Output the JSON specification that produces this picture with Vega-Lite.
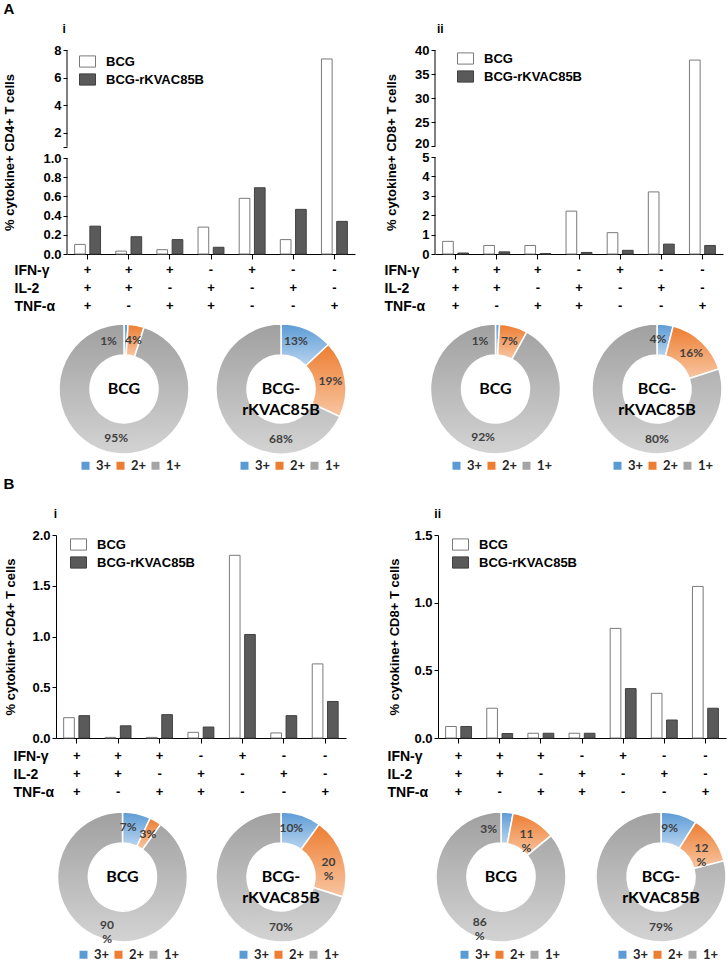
{
  "$schema": "https://vega.github.io/schema/vega-lite/v6.json",
  "background": "white",
  "padding": {"left": 2, "top": 2, "right": 2, "bottom": 0},
  "config": {
    "view": {"stroke": null},
    "font": "Liberation Sans",
    "axis": {"labelFont": "Liberation Sans", "labelFontSize": 13, "labelFontWeight": "bold", "labelColor": "#000", "titleFont": "Liberation Sans", "titleFontSize": 13, "titleFontWeight": "bold", "titleColor": "#000", "tickColor": "#000", "domainColor": "#000", "grid": false, "labelOverlap": false, "labelFlush": false, "tickSize": 4, "labelPadding": 2},
    "title": {"font": "Liberation Sans", "fontWeight": "bold", "color": "#000", "anchor": "start", "frame": "group"}
  },
  "datasets": {
    "bars": [
      {"p":"Ai","cat":1,"g":"BCG","v":0.10},{"p":"Ai","cat":2,"g":"BCG","v":0.03},{"p":"Ai","cat":3,"g":"BCG","v":0.045},{"p":"Ai","cat":4,"g":"BCG","v":0.28},{"p":"Ai","cat":5,"g":"BCG","v":0.58},{"p":"Ai","cat":6,"g":"BCG","v":0.15},{"p":"Ai","cat":7,"g":"BCG","v":7.35},
      {"p":"Ai","cat":1,"g":"BCG-rKVAC85B","v":0.29},{"p":"Ai","cat":2,"g":"BCG-rKVAC85B","v":0.18},{"p":"Ai","cat":3,"g":"BCG-rKVAC85B","v":0.15},{"p":"Ai","cat":4,"g":"BCG-rKVAC85B","v":0.07},{"p":"Ai","cat":5,"g":"BCG-rKVAC85B","v":0.69},{"p":"Ai","cat":6,"g":"BCG-rKVAC85B","v":0.465},{"p":"Ai","cat":7,"g":"BCG-rKVAC85B","v":0.34},
      {"p":"Aii","cat":1,"g":"BCG","v":0.65},{"p":"Aii","cat":2,"g":"BCG","v":0.44},{"p":"Aii","cat":3,"g":"BCG","v":0.44},{"p":"Aii","cat":4,"g":"BCG","v":2.21},{"p":"Aii","cat":5,"g":"BCG","v":1.1},{"p":"Aii","cat":6,"g":"BCG","v":3.2},{"p":"Aii","cat":7,"g":"BCG","v":37.9},
      {"p":"Aii","cat":1,"g":"BCG-rKVAC85B","v":0.05},{"p":"Aii","cat":2,"g":"BCG-rKVAC85B","v":0.11},{"p":"Aii","cat":3,"g":"BCG-rKVAC85B","v":0.02},{"p":"Aii","cat":4,"g":"BCG-rKVAC85B","v":0.08},{"p":"Aii","cat":5,"g":"BCG-rKVAC85B","v":0.19},{"p":"Aii","cat":6,"g":"BCG-rKVAC85B","v":0.51},{"p":"Aii","cat":7,"g":"BCG-rKVAC85B","v":0.44},
      {"p":"Bi","cat":1,"g":"BCG","v":0.20},{"p":"Bi","cat":2,"g":"BCG","v":0.006},{"p":"Bi","cat":3,"g":"BCG","v":0.006},{"p":"Bi","cat":4,"g":"BCG","v":0.056},{"p":"Bi","cat":5,"g":"BCG","v":1.80},{"p":"Bi","cat":6,"g":"BCG","v":0.05},{"p":"Bi","cat":7,"g":"BCG","v":0.73},
      {"p":"Bi","cat":1,"g":"BCG-rKVAC85B","v":0.22},{"p":"Bi","cat":2,"g":"BCG-rKVAC85B","v":0.12},{"p":"Bi","cat":3,"g":"BCG-rKVAC85B","v":0.23},{"p":"Bi","cat":4,"g":"BCG-rKVAC85B","v":0.108},{"p":"Bi","cat":5,"g":"BCG-rKVAC85B","v":1.02},{"p":"Bi","cat":6,"g":"BCG-rKVAC85B","v":0.22},{"p":"Bi","cat":7,"g":"BCG-rKVAC85B","v":0.36},
      {"p":"Bii","cat":1,"g":"BCG","v":0.085},{"p":"Bii","cat":2,"g":"BCG","v":0.22},{"p":"Bii","cat":3,"g":"BCG","v":0.035},{"p":"Bii","cat":4,"g":"BCG","v":0.035},{"p":"Bii","cat":5,"g":"BCG","v":0.81},{"p":"Bii","cat":6,"g":"BCG","v":0.33},{"p":"Bii","cat":7,"g":"BCG","v":1.12},
      {"p":"Bii","cat":1,"g":"BCG-rKVAC85B","v":0.085},{"p":"Bii","cat":2,"g":"BCG-rKVAC85B","v":0.033},{"p":"Bii","cat":3,"g":"BCG-rKVAC85B","v":0.035},{"p":"Bii","cat":4,"g":"BCG-rKVAC85B","v":0.035},{"p":"Bii","cat":5,"g":"BCG-rKVAC85B","v":0.365},{"p":"Bii","cat":6,"g":"BCG-rKVAC85B","v":0.133},{"p":"Bii","cat":7,"g":"BCG-rKVAC85B","v":0.22}
    ],
    "combos": [
      {"cat":1,"IFN":"+","IL2":"+","TNF":"+"},
      {"cat":2,"IFN":"+","IL2":"+","TNF":"-"},
      {"cat":3,"IFN":"+","IL2":"-","TNF":"+"},
      {"cat":4,"IFN":"-","IL2":"+","TNF":"+"},
      {"cat":5,"IFN":"+","IL2":"-","TNF":"-"},
      {"cat":6,"IFN":"-","IL2":"+","TNF":"-"},
      {"cat":7,"IFN":"-","IL2":"-","TNF":"+"}
    ],
    "donuts": [
      {"p":"Ai","g":"BCG","c":"3+","pct":1,"lab":"1%"},{"p":"Ai","g":"BCG","c":"2+","pct":4,"lab":"4%"},{"p":"Ai","g":"BCG","c":"1+","pct":95,"lab":"95%"},
      {"p":"Ai","g":"BCG-rKVAC85B","c":"3+","pct":13,"lab":"13%"},{"p":"Ai","g":"BCG-rKVAC85B","c":"2+","pct":19,"lab":"19%"},{"p":"Ai","g":"BCG-rKVAC85B","c":"1+","pct":68,"lab":"68%"},
      {"p":"Aii","g":"BCG","c":"3+","pct":1,"lab":"1%"},{"p":"Aii","g":"BCG","c":"2+","pct":7,"lab":"7%"},{"p":"Aii","g":"BCG","c":"1+","pct":92,"lab":"92%"},
      {"p":"Aii","g":"BCG-rKVAC85B","c":"3+","pct":4,"lab":"4%"},{"p":"Aii","g":"BCG-rKVAC85B","c":"2+","pct":16,"lab":"16%"},{"p":"Aii","g":"BCG-rKVAC85B","c":"1+","pct":80,"lab":"80%"},
      {"p":"Bi","g":"BCG","c":"3+","pct":7,"lab":"7%"},{"p":"Bi","g":"BCG","c":"2+","pct":3,"lab":"3%"},{"p":"Bi","g":"BCG","c":"1+","pct":90,"lab":"90\n%"},
      {"p":"Bi","g":"BCG-rKVAC85B","c":"3+","pct":10,"lab":"10%"},{"p":"Bi","g":"BCG-rKVAC85B","c":"2+","pct":20,"lab":"20\n%"},{"p":"Bi","g":"BCG-rKVAC85B","c":"1+","pct":70,"lab":"70%"},
      {"p":"Bii","g":"BCG","c":"3+","pct":3,"lab":"3%"},{"p":"Bii","g":"BCG","c":"2+","pct":11,"lab":"11\n%"},{"p":"Bii","g":"BCG","c":"1+","pct":86,"lab":"86\n%"},
      {"p":"Bii","g":"BCG-rKVAC85B","c":"3+","pct":9,"lab":"9%"},{"p":"Bii","g":"BCG-rKVAC85B","c":"2+","pct":12,"lab":"12\n%"},{"p":"Bii","g":"BCG-rKVAC85B","c":"1+","pct":79,"lab":"79%"}
    ]
  },
  "resolve": {"scale": {"color": "independent", "fill": "independent", "stroke": "independent", "theta": "independent"}, "legend": {"color": "independent", "fill": "independent", "stroke": "independent"}},
  "spacing": 4,
  "vconcat": [
    {
      "title": {"text": "A", "fontSize": 15, "offset": 6, "dx": 1.6},
      "spacing": 0,
      "resolve": {"scale": {"color": "independent", "fill": "independent", "stroke": "independent", "theta": "independent"}, "legend": {"color": "independent", "fill": "independent", "stroke": "independent"}},
      "hconcat": [
        {"width": 1, "height": 1, "data": {"values": [{"s": 0}]}, "mark": {"type": "rect", "opacity": 0}, "encoding": {}},
        {
          "spacing": 29,
          "resolve": {"scale": {"color": "independent", "fill": "independent", "stroke": "independent", "theta": "independent"}, "legend": {"color": "independent", "fill": "independent", "stroke": "independent"}},
          "hconcat": [
            {
              "spacing": 0,
              "resolve": {"scale": {"color": "independent", "fill": "independent", "stroke": "independent", "theta": "independent"}, "legend": {"color": "independent", "fill": "independent", "stroke": "independent"}},
              "vconcat": [
                {
                  "width": 288, "height": 204,
                  "title": {"text": "i", "fontSize": 12, "dx": -4.5, "offset": 8},
                  "data": {"name": "bars"},
                  "layer": [
                    {
                      "transform": [{"filter": "datum.p == 'Ai'"}],
                      "mark": {"type": "bar", "strokeWidth": 1},
                      "encoding": {
                        "x": {"field": "cat", "type": "ordinal", "scale": {"paddingInner": 0.37, "paddingOuter": 0.185}, "axis": {"labels": false, "title": null, "tickSize": 5}},
                        "xOffset": {"field": "g", "type": "nominal", "scale": {"domain": ["BCG", "BCG-rKVAC85B"], "paddingInner": 0.3}},
                        "y": {"field": "v", "type": "quantitative", "title": "% cytokine+ CD4+ T cells", "scale": {"domain": [0, 1, 1.0001, 8], "range": [204, 108, 96.7, 0], "nice": false}, "axis": {"values": [0, 0.2, 0.4, 0.6, 0.8, 1, 1.0001, 2, 4, 6, 8], "labelExpr": "datum.value > 1.5 ? format(datum.value, 'd') : (datum.value > 1.00005 ? '' : format(datum.value, '.1f'))", "labelOverlap": false, "domain": false, "titleX": -57.5, "titleBaseline": "middle"}},
                        "fill": {"field": "g", "type": "nominal", "scale": {"domain": ["BCG", "BCG-rKVAC85B"], "range": ["#ffffff", "#5a5a5a"]}, "legend": {"orient": "none", "legendX": 12, "legendY": 3, "title": null, "padding": 0, "symbolType": "M-1,-0.7H1V0.7H-1Z", "symbolSize": 256, "symbolStrokeColor": "#555555", "symbolStrokeWidth": 1, "labelFont": "Liberation Sans", "labelFontSize": 13, "labelFontWeight": "bold", "labelColor": "#000", "labelOffset": 10, "rowPadding": 1}},
                        "stroke": {"field": "g", "type": "nominal", "scale": {"domain": ["BCG", "BCG-rKVAC85B"], "range": ["#7a7a7a", "#404040"]}, "legend": null}
                      }
                    },
                    {
                      "data": {"values": [{"lo": 0, "hi": 1}, {"lo": 1.0001, "hi": 8}]},
                      "mark": {"type": "rule", "color": "#000", "strokeWidth": 1},
                      "encoding": {
                        "x": {"datum": 0, "type": "quantitative", "scale": {"domain": [0, 1]}, "axis": null},
                        "y": {"field": "lo", "type": "quantitative", "scale": {"domain": [0, 1, 1.0001, 8], "range": [204, 108, 96.7, 0], "nice": false}, "axis": null},
                        "y2": {"field": "hi"}
                      }
                    }
                  ],
                  "resolve": {"scale": {"x": "independent", "y": "independent"}}
                },
                {
                  "width": 288, "height": 54,
                  "data": {"name": "combos"},
                  "transform": [{"fold": ["IFN", "IL2", "TNF"], "as": ["cyt", "sign"]}],
                  "mark": {"type": "text", "font": "Liberation Sans", "fontSize": 13, "fontWeight": "bold", "color": "#000"},
                  "encoding": {
                    "x": {"field": "cat", "type": "ordinal", "scale": {"type": "band", "paddingInner": 0.37, "paddingOuter": 0.185}, "axis": null},
                    "y": {"field": "cyt", "type": "nominal", "sort": ["IFN", "IL2", "TNF"], "axis": {"title": null, "domain": false, "ticks": false, "tickSize": 0, "labelAlign": "left", "labelPadding": 53, "labelFontSize": 14, "labelExpr": "datum.value == 'IFN' ? 'IFN-γ' : (datum.value == 'IL2' ? 'IL-2' : 'TNF-α')"}},
                    "text": {"field": "sign"}
                  }
                },
                {
                  "spacing": 35, "bounds": "flush",
                  "resolve": {"scale": {"color": "independent", "fill": "independent", "stroke": "independent", "theta": "independent"}, "legend": {"color": "independent", "fill": "independent", "stroke": "independent"}},
                  "hconcat": [
                    {
                      "width": 114, "height": 148,
                      "data": {"name": "donuts"},
                      "transform": [{"filter": "datum.p == 'Ai' && datum.g == 'BCG'"}, {"stack": "pct", "groupby": [], "sort": [{"field": "c", "order": "descending"}], "as": ["t0", "t1"]}, {"calculate": "datum.c == '3+' ? (datum.pct < 4 ? (datum.t0 + datum.t1) / 2 - 5.5 : (datum.t0 + datum.t1) / 2 - 1.7) : ((datum.c == '1+' && datum.g != 'BCG') ? 50 : (datum.t0 + datum.t1) / 2)", "as": "lt"}],
                      "layer": [
                        {"mark": {"type": "arc", "innerRadius": 34, "outerRadius": 65}, "encoding": {"theta": {"field": "t0", "type": "quantitative", "stack": null, "scale": {"type": "linear", "domain": [0, 100], "range": [0, 6.2832], "nice": false, "zero": false}}, "theta2": {"field": "t1"}, "color": {"field": "c", "type": "nominal", "scale": {"domain": ["3+", "2+", "1+"], "range": ["#5b9bd5", "#ed7d31", "#a5a5a5"]}, "legend": {"orient": "none", "legendX": 12, "legendY": 144, "direction": "horizontal", "title": null, "padding": 0, "symbolType": "square", "symbolSize": 64, "symbolStrokeWidth": 0, "labelFont": "Lato", "labelFontSize": 13, "labelFontWeight": "bold", "labelColor": "#262626", "columnPadding": 2, "labelOffset": 4}}}},
                        {"transform": [{"filter": "datum.c == '3+'"}], "mark": {"type": "arc", "innerRadius": 34, "outerRadius": 65, "stroke": "#ffffff", "strokeWidth": 1.5, "fill": {"gradient": "linear", "x1": 0, "y1": 0, "x2": 0, "y2": 1, "stops": [{"offset": 0, "color": "#5b9bd5"}, {"offset": 1, "color": "#b9d4ef"}]}}, "encoding": {"theta": {"field": "t0", "type": "quantitative", "stack": null, "scale": {"type": "linear", "domain": [0, 100], "range": [0, 6.2832], "nice": false, "zero": false}}, "theta2": {"field": "t1"}}},
                        {"transform": [{"filter": "datum.c == '2+'"}], "mark": {"type": "arc", "innerRadius": 34, "outerRadius": 65, "stroke": "#ffffff", "strokeWidth": 1.5, "fill": {"gradient": "linear", "x1": 0, "y1": 0, "x2": 0, "y2": 1, "stops": [{"offset": 0, "color": "#ed7d31"}, {"offset": 1, "color": "#f8c6a2"}]}}, "encoding": {"theta": {"field": "t0", "type": "quantitative", "stack": null, "scale": {"type": "linear", "domain": [0, 100], "range": [0, 6.2832], "nice": false, "zero": false}}, "theta2": {"field": "t1"}}},
                        {"transform": [{"filter": "datum.c == '1+'"}], "mark": {"type": "arc", "innerRadius": 34, "outerRadius": 65, "stroke": "#ffffff", "strokeWidth": 1.5, "fill": {"gradient": "linear", "x1": 0, "y1": 0, "x2": 0, "y2": 1, "stops": [{"offset": 0, "color": "#a0a0a0"}, {"offset": 1, "color": "#d3d3d3"}]}}, "encoding": {"theta": {"field": "t0", "type": "quantitative", "stack": null, "scale": {"type": "linear", "domain": [0, 100], "range": [0, 6.2832], "nice": false, "zero": false}}, "theta2": {"field": "t1"}}},
                        {"mark": {"type": "text", "radius": 50, "font": "Lato", "fontWeight": "bold", "fontSize": 12, "color": "#404040", "lineBreak": "\n"}, "encoding": {"theta": {"field": "lt", "type": "quantitative", "stack": null, "scale": {"type": "linear", "domain": [0, 100], "range": [0, 6.2832], "nice": false, "zero": false}}, "text": {"field": "lab"}}},
                        {"transform": [{"filter": "datum.c == '1+'"}, {"calculate": "replace(datum.g, '-', '-\\n')", "as": "ctr"}], "mark": {"type": "text", "font": "Lato", "fontWeight": "bold", "fontSize": 16, "color": "#000", "lineBreak": "\n", "lineHeight": 21}, "encoding": {"text": {"field": "ctr"}}}
                      ]
                    },
                    {
                      "width": 130, "height": 148,
                      "data": {"name": "donuts"},
                      "transform": [{"filter": "datum.p == 'Ai' && datum.g == 'BCG-rKVAC85B'"}, {"stack": "pct", "groupby": [], "sort": [{"field": "c", "order": "descending"}], "as": ["t0", "t1"]}, {"calculate": "datum.c == '3+' ? (datum.pct < 4 ? (datum.t0 + datum.t1) / 2 - 5.5 : (datum.t0 + datum.t1) / 2 - 1.7) : ((datum.c == '1+' && datum.g != 'BCG') ? 50 : (datum.t0 + datum.t1) / 2)", "as": "lt"}],
                      "layer": [
                        {"mark": {"type": "arc", "innerRadius": 34, "outerRadius": 65}, "encoding": {"theta": {"field": "t0", "type": "quantitative", "stack": null, "scale": {"type": "linear", "domain": [0, 100], "range": [0, 6.2832], "nice": false, "zero": false}}, "theta2": {"field": "t1"}, "color": {"field": "c", "type": "nominal", "scale": {"domain": ["3+", "2+", "1+"], "range": ["#5b9bd5", "#ed7d31", "#a5a5a5"]}, "legend": {"orient": "none", "legendX": 22, "legendY": 144, "direction": "horizontal", "title": null, "padding": 0, "symbolType": "square", "symbolSize": 64, "symbolStrokeWidth": 0, "labelFont": "Lato", "labelFontSize": 13, "labelFontWeight": "bold", "labelColor": "#262626", "columnPadding": 2, "labelOffset": 4}}}},
                        {"transform": [{"filter": "datum.c == '3+'"}], "mark": {"type": "arc", "innerRadius": 34, "outerRadius": 65, "stroke": "#ffffff", "strokeWidth": 1.5, "fill": {"gradient": "linear", "x1": 0, "y1": 0, "x2": 0, "y2": 1, "stops": [{"offset": 0, "color": "#5b9bd5"}, {"offset": 1, "color": "#b9d4ef"}]}}, "encoding": {"theta": {"field": "t0", "type": "quantitative", "stack": null, "scale": {"type": "linear", "domain": [0, 100], "range": [0, 6.2832], "nice": false, "zero": false}}, "theta2": {"field": "t1"}}},
                        {"transform": [{"filter": "datum.c == '2+'"}], "mark": {"type": "arc", "innerRadius": 34, "outerRadius": 65, "stroke": "#ffffff", "strokeWidth": 1.5, "fill": {"gradient": "linear", "x1": 0, "y1": 0, "x2": 0, "y2": 1, "stops": [{"offset": 0, "color": "#ed7d31"}, {"offset": 1, "color": "#f8c6a2"}]}}, "encoding": {"theta": {"field": "t0", "type": "quantitative", "stack": null, "scale": {"type": "linear", "domain": [0, 100], "range": [0, 6.2832], "nice": false, "zero": false}}, "theta2": {"field": "t1"}}},
                        {"transform": [{"filter": "datum.c == '1+'"}], "mark": {"type": "arc", "innerRadius": 34, "outerRadius": 65, "stroke": "#ffffff", "strokeWidth": 1.5, "fill": {"gradient": "linear", "x1": 0, "y1": 0, "x2": 0, "y2": 1, "stops": [{"offset": 0, "color": "#a0a0a0"}, {"offset": 1, "color": "#d3d3d3"}]}}, "encoding": {"theta": {"field": "t0", "type": "quantitative", "stack": null, "scale": {"type": "linear", "domain": [0, 100], "range": [0, 6.2832], "nice": false, "zero": false}}, "theta2": {"field": "t1"}}},
                        {"mark": {"type": "text", "radius": 50, "font": "Lato", "fontWeight": "bold", "fontSize": 12, "color": "#404040", "lineBreak": "\n"}, "encoding": {"theta": {"field": "lt", "type": "quantitative", "stack": null, "scale": {"type": "linear", "domain": [0, 100], "range": [0, 6.2832], "nice": false, "zero": false}}, "text": {"field": "lab"}}},
                        {"transform": [{"filter": "datum.c == '1+'"}, {"calculate": "replace(datum.g, '-', '-\\n')", "as": "ctr"}], "mark": {"type": "text", "font": "Lato", "fontWeight": "bold", "fontSize": 16, "color": "#000", "lineBreak": "\n", "lineHeight": 21}, "encoding": {"text": {"field": "ctr"}}}
                      ]
                    }
                  ]
                }
              ]
            },
            {
              "spacing": 0,
              "resolve": {"scale": {"color": "independent", "fill": "independent", "stroke": "independent", "theta": "independent"}, "legend": {"color": "independent", "fill": "independent", "stroke": "independent"}},
              "vconcat": [
                {
                  "width": 288, "height": 204,
                  "title": {"text": "ii", "fontSize": 12, "dx": 2, "offset": 8},
                  "data": {"name": "bars"},
                  "layer": [
                    {
                      "transform": [{"filter": "datum.p == 'Aii'"}],
                      "mark": {"type": "bar", "strokeWidth": 1},
                      "encoding": {
                        "x": {"field": "cat", "type": "ordinal", "scale": {"paddingInner": 0.37, "paddingOuter": 0.185}, "axis": {"labels": false, "title": null, "tickSize": 5}},
                        "xOffset": {"field": "g", "type": "nominal", "scale": {"domain": ["BCG", "BCG-rKVAC85B"], "paddingInner": 0.3}},
                        "y": {"field": "v", "type": "quantitative", "title": "% cytokine+ CD8+ T cells", "scale": {"domain": [0, 5, 20, 40], "range": [204, 107, 96, 0], "nice": false}, "axis": {"values": [0, 1, 2, 3, 4, 5, 20, 25, 30, 35, 40], "format": "d", "labelOverlap": false, "labelOffset": {"condition": {"test": "datum.value == 20", "value": -2.5}, "value": 0}, "domain": false, "titleX": -44, "titleBaseline": "middle"}},
                        "fill": {"field": "g", "type": "nominal", "scale": {"domain": ["BCG", "BCG-rKVAC85B"], "range": ["#ffffff", "#5a5a5a"]}, "legend": {"orient": "none", "legendX": 22, "legendY": 0, "title": null, "padding": 0, "symbolType": "M-1,-0.7H1V0.7H-1Z", "symbolSize": 256, "symbolStrokeColor": "#555555", "symbolStrokeWidth": 1, "labelFont": "Liberation Sans", "labelFontSize": 13, "labelFontWeight": "bold", "labelColor": "#000", "labelOffset": 10, "rowPadding": 1}},
                        "stroke": {"field": "g", "type": "nominal", "scale": {"domain": ["BCG", "BCG-rKVAC85B"], "range": ["#7a7a7a", "#404040"]}, "legend": null}
                      }
                    },
                    {
                      "data": {"values": [{"lo": 0, "hi": 5}, {"lo": 20, "hi": 40}]},
                      "mark": {"type": "rule", "color": "#000", "strokeWidth": 1},
                      "encoding": {
                        "x": {"datum": 0, "type": "quantitative", "scale": {"domain": [0, 1]}, "axis": null},
                        "y": {"field": "lo", "type": "quantitative", "scale": {"domain": [0, 5, 20, 40], "range": [204, 107, 96, 0], "nice": false}, "axis": null},
                        "y2": {"field": "hi"}
                      }
                    }
                  ],
                  "resolve": {"scale": {"x": "independent", "y": "independent"}}
                },
                {
                  "width": 288, "height": 54,
                  "data": {"name": "combos"},
                  "transform": [{"fold": ["IFN", "IL2", "TNF"], "as": ["cyt", "sign"]}],
                  "mark": {"type": "text", "font": "Liberation Sans", "fontSize": 13, "fontWeight": "bold", "color": "#000"},
                  "encoding": {
                    "x": {"field": "cat", "type": "ordinal", "scale": {"type": "band", "paddingInner": 0.37, "paddingOuter": 0.185}, "axis": null},
                    "y": {"field": "cyt", "type": "nominal", "sort": ["IFN", "IL2", "TNF"], "axis": {"title": null, "domain": false, "ticks": false, "tickSize": 0, "labelAlign": "left", "labelPadding": 51, "labelFontSize": 14, "labelExpr": "datum.value == 'IFN' ? 'IFN-γ' : (datum.value == 'IL2' ? 'IL-2' : 'TNF-α')"}},
                    "text": {"field": "sign"}
                  }
                },
                {
                  "spacing": 36, "bounds": "flush",
                  "resolve": {"scale": {"color": "independent", "fill": "independent", "stroke": "independent", "theta": "independent"}, "legend": {"color": "independent", "fill": "independent", "stroke": "independent"}},
                  "hconcat": [
                    {
                      "width": 121, "height": 148,
                      "data": {"name": "donuts"},
                      "transform": [{"filter": "datum.p == 'Aii' && datum.g == 'BCG'"}, {"stack": "pct", "groupby": [], "sort": [{"field": "c", "order": "descending"}], "as": ["t0", "t1"]}, {"calculate": "datum.c == '3+' ? (datum.pct < 4 ? (datum.t0 + datum.t1) / 2 - 5.5 : (datum.t0 + datum.t1) / 2 - 1.7) : ((datum.c == '1+' && datum.g != 'BCG') ? 50 : (datum.t0 + datum.t1) / 2)", "as": "lt"}],
                      "layer": [
                        {"mark": {"type": "arc", "innerRadius": 34, "outerRadius": 65}, "encoding": {"theta": {"field": "t0", "type": "quantitative", "stack": null, "scale": {"type": "linear", "domain": [0, 100], "range": [0, 6.2832], "nice": false, "zero": false}}, "theta2": {"field": "t1"}, "color": {"field": "c", "type": "nominal", "scale": {"domain": ["3+", "2+", "1+"], "range": ["#5b9bd5", "#ed7d31", "#a5a5a5"]}, "legend": {"orient": "none", "legendX": 15, "legendY": 144, "direction": "horizontal", "title": null, "padding": 0, "symbolType": "square", "symbolSize": 64, "symbolStrokeWidth": 0, "labelFont": "Lato", "labelFontSize": 13, "labelFontWeight": "bold", "labelColor": "#262626", "columnPadding": 2, "labelOffset": 4}}}},
                        {"transform": [{"filter": "datum.c == '3+'"}], "mark": {"type": "arc", "innerRadius": 34, "outerRadius": 65, "stroke": "#ffffff", "strokeWidth": 1.5, "fill": {"gradient": "linear", "x1": 0, "y1": 0, "x2": 0, "y2": 1, "stops": [{"offset": 0, "color": "#5b9bd5"}, {"offset": 1, "color": "#b9d4ef"}]}}, "encoding": {"theta": {"field": "t0", "type": "quantitative", "stack": null, "scale": {"type": "linear", "domain": [0, 100], "range": [0, 6.2832], "nice": false, "zero": false}}, "theta2": {"field": "t1"}}},
                        {"transform": [{"filter": "datum.c == '2+'"}], "mark": {"type": "arc", "innerRadius": 34, "outerRadius": 65, "stroke": "#ffffff", "strokeWidth": 1.5, "fill": {"gradient": "linear", "x1": 0, "y1": 0, "x2": 0, "y2": 1, "stops": [{"offset": 0, "color": "#ed7d31"}, {"offset": 1, "color": "#f8c6a2"}]}}, "encoding": {"theta": {"field": "t0", "type": "quantitative", "stack": null, "scale": {"type": "linear", "domain": [0, 100], "range": [0, 6.2832], "nice": false, "zero": false}}, "theta2": {"field": "t1"}}},
                        {"transform": [{"filter": "datum.c == '1+'"}], "mark": {"type": "arc", "innerRadius": 34, "outerRadius": 65, "stroke": "#ffffff", "strokeWidth": 1.5, "fill": {"gradient": "linear", "x1": 0, "y1": 0, "x2": 0, "y2": 1, "stops": [{"offset": 0, "color": "#a0a0a0"}, {"offset": 1, "color": "#d3d3d3"}]}}, "encoding": {"theta": {"field": "t0", "type": "quantitative", "stack": null, "scale": {"type": "linear", "domain": [0, 100], "range": [0, 6.2832], "nice": false, "zero": false}}, "theta2": {"field": "t1"}}},
                        {"mark": {"type": "text", "radius": 50, "font": "Lato", "fontWeight": "bold", "fontSize": 12, "color": "#404040", "lineBreak": "\n"}, "encoding": {"theta": {"field": "lt", "type": "quantitative", "stack": null, "scale": {"type": "linear", "domain": [0, 100], "range": [0, 6.2832], "nice": false, "zero": false}}, "text": {"field": "lab"}}},
                        {"transform": [{"filter": "datum.c == '1+'"}, {"calculate": "replace(datum.g, '-', '-\\n')", "as": "ctr"}], "mark": {"type": "text", "font": "Lato", "fontWeight": "bold", "fontSize": 16, "color": "#000", "lineBreak": "\n", "lineHeight": 21}, "encoding": {"text": {"field": "ctr"}}}
                      ]
                    },
                    {
                      "width": 130, "height": 148,
                      "data": {"name": "donuts"},
                      "transform": [{"filter": "datum.p == 'Aii' && datum.g == 'BCG-rKVAC85B'"}, {"stack": "pct", "groupby": [], "sort": [{"field": "c", "order": "descending"}], "as": ["t0", "t1"]}, {"calculate": "datum.c == '3+' ? (datum.pct < 4 ? (datum.t0 + datum.t1) / 2 - 5.5 : (datum.t0 + datum.t1) / 2 - 1.7) : ((datum.c == '1+' && datum.g != 'BCG') ? 50 : (datum.t0 + datum.t1) / 2)", "as": "lt"}],
                      "layer": [
                        {"mark": {"type": "arc", "innerRadius": 34, "outerRadius": 65}, "encoding": {"theta": {"field": "t0", "type": "quantitative", "stack": null, "scale": {"type": "linear", "domain": [0, 100], "range": [0, 6.2832], "nice": false, "zero": false}}, "theta2": {"field": "t1"}, "color": {"field": "c", "type": "nominal", "scale": {"domain": ["3+", "2+", "1+"], "range": ["#5b9bd5", "#ed7d31", "#a5a5a5"]}, "legend": {"orient": "none", "legendX": 19, "legendY": 144, "direction": "horizontal", "title": null, "padding": 0, "symbolType": "square", "symbolSize": 64, "symbolStrokeWidth": 0, "labelFont": "Lato", "labelFontSize": 13, "labelFontWeight": "bold", "labelColor": "#262626", "columnPadding": 2, "labelOffset": 4}}}},
                        {"transform": [{"filter": "datum.c == '3+'"}], "mark": {"type": "arc", "innerRadius": 34, "outerRadius": 65, "stroke": "#ffffff", "strokeWidth": 1.5, "fill": {"gradient": "linear", "x1": 0, "y1": 0, "x2": 0, "y2": 1, "stops": [{"offset": 0, "color": "#5b9bd5"}, {"offset": 1, "color": "#b9d4ef"}]}}, "encoding": {"theta": {"field": "t0", "type": "quantitative", "stack": null, "scale": {"type": "linear", "domain": [0, 100], "range": [0, 6.2832], "nice": false, "zero": false}}, "theta2": {"field": "t1"}}},
                        {"transform": [{"filter": "datum.c == '2+'"}], "mark": {"type": "arc", "innerRadius": 34, "outerRadius": 65, "stroke": "#ffffff", "strokeWidth": 1.5, "fill": {"gradient": "linear", "x1": 0, "y1": 0, "x2": 0, "y2": 1, "stops": [{"offset": 0, "color": "#ed7d31"}, {"offset": 1, "color": "#f8c6a2"}]}}, "encoding": {"theta": {"field": "t0", "type": "quantitative", "stack": null, "scale": {"type": "linear", "domain": [0, 100], "range": [0, 6.2832], "nice": false, "zero": false}}, "theta2": {"field": "t1"}}},
                        {"transform": [{"filter": "datum.c == '1+'"}], "mark": {"type": "arc", "innerRadius": 34, "outerRadius": 65, "stroke": "#ffffff", "strokeWidth": 1.5, "fill": {"gradient": "linear", "x1": 0, "y1": 0, "x2": 0, "y2": 1, "stops": [{"offset": 0, "color": "#a0a0a0"}, {"offset": 1, "color": "#d3d3d3"}]}}, "encoding": {"theta": {"field": "t0", "type": "quantitative", "stack": null, "scale": {"type": "linear", "domain": [0, 100], "range": [0, 6.2832], "nice": false, "zero": false}}, "theta2": {"field": "t1"}}},
                        {"mark": {"type": "text", "radius": 50, "font": "Lato", "fontWeight": "bold", "fontSize": 12, "color": "#404040", "lineBreak": "\n"}, "encoding": {"theta": {"field": "lt", "type": "quantitative", "stack": null, "scale": {"type": "linear", "domain": [0, 100], "range": [0, 6.2832], "nice": false, "zero": false}}, "text": {"field": "lab"}}},
                        {"transform": [{"filter": "datum.c == '1+'"}, {"calculate": "replace(datum.g, '-', '-\\n')", "as": "ctr"}], "mark": {"type": "text", "font": "Lato", "fontWeight": "bold", "fontSize": 16, "color": "#000", "lineBreak": "\n", "lineHeight": 21}, "encoding": {"text": {"field": "ctr"}}}
                      ]
                    }
                  ]
                }
              ]
            }
          ]
        }
      ]
    },
    {
      "title": {"text": "B", "fontSize": 15, "offset": 16, "dx": 1.6},
      "spacing": 0,
      "resolve": {"scale": {"color": "independent", "fill": "independent", "stroke": "independent", "theta": "independent"}, "legend": {"color": "independent", "fill": "independent", "stroke": "independent"}},
      "hconcat": [
        {"width": 1, "height": 1, "data": {"values": [{"s": 0}]}, "mark": {"type": "rect", "opacity": 0}, "encoding": {}},
        {
          "spacing": 38,
          "resolve": {"scale": {"color": "independent", "fill": "independent", "stroke": "independent", "theta": "independent"}, "legend": {"color": "independent", "fill": "independent", "stroke": "independent"}},
          "hconcat": [
            {
              "spacing": 2,
              "resolve": {"scale": {"color": "independent", "fill": "independent", "stroke": "independent", "theta": "independent"}, "legend": {"color": "independent", "fill": "independent", "stroke": "independent"}},
              "vconcat": [
                {
                  "width": 290, "height": 203,
                  "title": {"text": "i", "fontSize": 12, "dx": -2.3, "offset": 8},
                  "data": {"name": "bars"},
                  "transform": [{"filter": "datum.p == 'Bi'"}],
                  "mark": {"type": "bar", "strokeWidth": 1},
                  "encoding": {
                    "x": {"field": "cat", "type": "ordinal", "scale": {"paddingInner": 0.37, "paddingOuter": 0.185}, "axis": {"labels": false, "title": null, "tickSize": 5}},
                    "xOffset": {"field": "g", "type": "nominal", "scale": {"domain": ["BCG", "BCG-rKVAC85B"], "paddingInner": 0.3}},
                    "y": {"field": "v", "type": "quantitative", "title": "% cytokine+ CD4+ T cells", "scale": {"domain": [0, 2], "nice": false}, "axis": {"values": [0, 0.5, 1, 1.5, 2], "format": ".1f", "labelOverlap": false, "titleX": -46, "titleBaseline": "middle"}},
                    "fill": {"field": "g", "type": "nominal", "scale": {"domain": ["BCG", "BCG-rKVAC85B"], "range": ["#ffffff", "#5a5a5a"]}, "legend": {"orient": "none", "legendX": 14, "legendY": 1, "title": null, "padding": 0, "symbolType": "M-1,-0.7H1V0.7H-1Z", "symbolSize": 256, "symbolStrokeColor": "#555555", "symbolStrokeWidth": 1, "labelFont": "Liberation Sans", "labelFontSize": 13, "labelFontWeight": "bold", "labelColor": "#000", "labelOffset": 10, "rowPadding": 1}},
                    "stroke": {"field": "g", "type": "nominal", "scale": {"domain": ["BCG", "BCG-rKVAC85B"], "range": ["#7a7a7a", "#404040"]}, "legend": null}
                  }
                },
                {
                  "width": 290, "height": 54,
                  "data": {"name": "combos"},
                  "transform": [{"fold": ["IFN", "IL2", "TNF"], "as": ["cyt", "sign"]}],
                  "mark": {"type": "text", "font": "Liberation Sans", "fontSize": 13, "fontWeight": "bold", "color": "#000"},
                  "encoding": {
                    "x": {"field": "cat", "type": "ordinal", "scale": {"type": "band", "paddingInner": 0.37, "paddingOuter": 0.185}, "axis": null},
                    "y": {"field": "cyt", "type": "nominal", "sort": ["IFN", "IL2", "TNF"], "axis": {"title": null, "domain": false, "ticks": false, "tickSize": 0, "labelAlign": "left", "labelPadding": 43, "labelFontSize": 14, "labelExpr": "datum.value == 'IFN' ? 'IFN-γ' : (datum.value == 'IL2' ? 'IL-2' : 'TNF-α')"}},
                    "text": {"field": "sign"}
                  }
                },
                {
                  "spacing": 27, "bounds": "flush",
                  "resolve": {"scale": {"color": "independent", "fill": "independent", "stroke": "independent", "theta": "independent"}, "legend": {"color": "independent", "fill": "independent", "stroke": "independent"}},
                  "hconcat": [
                    {
                      "width": 133, "height": 148,
                      "data": {"name": "donuts"},
                      "transform": [{"filter": "datum.p == 'Bi' && datum.g == 'BCG'"}, {"stack": "pct", "groupby": [], "sort": [{"field": "c", "order": "descending"}], "as": ["t0", "t1"]}, {"calculate": "datum.c == '3+' ? (datum.pct < 4 ? (datum.t0 + datum.t1) / 2 - 5.5 : (datum.t0 + datum.t1) / 2 - 1.7) : ((datum.c == '1+' && datum.g != 'BCG') ? 50 : (datum.t0 + datum.t1) / 2)", "as": "lt"}],
                      "layer": [
                        {"mark": {"type": "arc", "innerRadius": 34, "outerRadius": 65}, "encoding": {"theta": {"field": "t0", "type": "quantitative", "stack": null, "scale": {"type": "linear", "domain": [0, 100], "range": [0, 6.2832], "nice": false, "zero": false}}, "theta2": {"field": "t1"}, "color": {"field": "c", "type": "nominal", "scale": {"domain": ["3+", "2+", "1+"], "range": ["#5b9bd5", "#ed7d31", "#a5a5a5"]}, "legend": {"orient": "none", "legendX": 21, "legendY": 145, "direction": "horizontal", "title": null, "padding": 0, "symbolType": "square", "symbolSize": 64, "symbolStrokeWidth": 0, "labelFont": "Lato", "labelFontSize": 13, "labelFontWeight": "bold", "labelColor": "#262626", "columnPadding": 2, "labelOffset": 4}}}},
                        {"transform": [{"filter": "datum.c == '3+'"}], "mark": {"type": "arc", "innerRadius": 34, "outerRadius": 65, "stroke": "#ffffff", "strokeWidth": 1.5, "fill": {"gradient": "linear", "x1": 0, "y1": 0, "x2": 0, "y2": 1, "stops": [{"offset": 0, "color": "#5b9bd5"}, {"offset": 1, "color": "#b9d4ef"}]}}, "encoding": {"theta": {"field": "t0", "type": "quantitative", "stack": null, "scale": {"type": "linear", "domain": [0, 100], "range": [0, 6.2832], "nice": false, "zero": false}}, "theta2": {"field": "t1"}}},
                        {"transform": [{"filter": "datum.c == '2+'"}], "mark": {"type": "arc", "innerRadius": 34, "outerRadius": 65, "stroke": "#ffffff", "strokeWidth": 1.5, "fill": {"gradient": "linear", "x1": 0, "y1": 0, "x2": 0, "y2": 1, "stops": [{"offset": 0, "color": "#ed7d31"}, {"offset": 1, "color": "#f8c6a2"}]}}, "encoding": {"theta": {"field": "t0", "type": "quantitative", "stack": null, "scale": {"type": "linear", "domain": [0, 100], "range": [0, 6.2832], "nice": false, "zero": false}}, "theta2": {"field": "t1"}}},
                        {"transform": [{"filter": "datum.c == '1+'"}], "mark": {"type": "arc", "innerRadius": 34, "outerRadius": 65, "stroke": "#ffffff", "strokeWidth": 1.5, "fill": {"gradient": "linear", "x1": 0, "y1": 0, "x2": 0, "y2": 1, "stops": [{"offset": 0, "color": "#a0a0a0"}, {"offset": 1, "color": "#d3d3d3"}]}}, "encoding": {"theta": {"field": "t0", "type": "quantitative", "stack": null, "scale": {"type": "linear", "domain": [0, 100], "range": [0, 6.2832], "nice": false, "zero": false}}, "theta2": {"field": "t1"}}},
                        {"mark": {"type": "text", "radius": 50, "font": "Lato", "fontWeight": "bold", "fontSize": 12, "color": "#404040", "lineBreak": "\n"}, "encoding": {"theta": {"field": "lt", "type": "quantitative", "stack": null, "scale": {"type": "linear", "domain": [0, 100], "range": [0, 6.2832], "nice": false, "zero": false}}, "text": {"field": "lab"}}},
                        {"transform": [{"filter": "datum.c == '1+'"}, {"calculate": "replace(datum.g, '-', '-\\n')", "as": "ctr"}], "mark": {"type": "text", "font": "Lato", "fontWeight": "bold", "fontSize": 16, "color": "#000", "lineBreak": "\n", "lineHeight": 21}, "encoding": {"text": {"field": "ctr"}}}
                      ]
                    },
                    {
                      "width": 130, "height": 148,
                      "data": {"name": "donuts"},
                      "transform": [{"filter": "datum.p == 'Bi' && datum.g == 'BCG-rKVAC85B'"}, {"stack": "pct", "groupby": [], "sort": [{"field": "c", "order": "descending"}], "as": ["t0", "t1"]}, {"calculate": "datum.c == '3+' ? (datum.pct < 4 ? (datum.t0 + datum.t1) / 2 - 5.5 : (datum.t0 + datum.t1) / 2 - 1.7) : ((datum.c == '1+' && datum.g != 'BCG') ? 50 : (datum.t0 + datum.t1) / 2)", "as": "lt"}],
                      "layer": [
                        {"mark": {"type": "arc", "innerRadius": 34, "outerRadius": 65}, "encoding": {"theta": {"field": "t0", "type": "quantitative", "stack": null, "scale": {"type": "linear", "domain": [0, 100], "range": [0, 6.2832], "nice": false, "zero": false}}, "theta2": {"field": "t1"}, "color": {"field": "c", "type": "nominal", "scale": {"domain": ["3+", "2+", "1+"], "range": ["#5b9bd5", "#ed7d31", "#a5a5a5"]}, "legend": {"orient": "none", "legendX": 21, "legendY": 145, "direction": "horizontal", "title": null, "padding": 0, "symbolType": "square", "symbolSize": 64, "symbolStrokeWidth": 0, "labelFont": "Lato", "labelFontSize": 13, "labelFontWeight": "bold", "labelColor": "#262626", "columnPadding": 2, "labelOffset": 4}}}},
                        {"transform": [{"filter": "datum.c == '3+'"}], "mark": {"type": "arc", "innerRadius": 34, "outerRadius": 65, "stroke": "#ffffff", "strokeWidth": 1.5, "fill": {"gradient": "linear", "x1": 0, "y1": 0, "x2": 0, "y2": 1, "stops": [{"offset": 0, "color": "#5b9bd5"}, {"offset": 1, "color": "#b9d4ef"}]}}, "encoding": {"theta": {"field": "t0", "type": "quantitative", "stack": null, "scale": {"type": "linear", "domain": [0, 100], "range": [0, 6.2832], "nice": false, "zero": false}}, "theta2": {"field": "t1"}}},
                        {"transform": [{"filter": "datum.c == '2+'"}], "mark": {"type": "arc", "innerRadius": 34, "outerRadius": 65, "stroke": "#ffffff", "strokeWidth": 1.5, "fill": {"gradient": "linear", "x1": 0, "y1": 0, "x2": 0, "y2": 1, "stops": [{"offset": 0, "color": "#ed7d31"}, {"offset": 1, "color": "#f8c6a2"}]}}, "encoding": {"theta": {"field": "t0", "type": "quantitative", "stack": null, "scale": {"type": "linear", "domain": [0, 100], "range": [0, 6.2832], "nice": false, "zero": false}}, "theta2": {"field": "t1"}}},
                        {"transform": [{"filter": "datum.c == '1+'"}], "mark": {"type": "arc", "innerRadius": 34, "outerRadius": 65, "stroke": "#ffffff", "strokeWidth": 1.5, "fill": {"gradient": "linear", "x1": 0, "y1": 0, "x2": 0, "y2": 1, "stops": [{"offset": 0, "color": "#a0a0a0"}, {"offset": 1, "color": "#d3d3d3"}]}}, "encoding": {"theta": {"field": "t0", "type": "quantitative", "stack": null, "scale": {"type": "linear", "domain": [0, 100], "range": [0, 6.2832], "nice": false, "zero": false}}, "theta2": {"field": "t1"}}},
                        {"mark": {"type": "text", "radius": 50, "font": "Lato", "fontWeight": "bold", "fontSize": 12, "color": "#404040", "lineBreak": "\n"}, "encoding": {"theta": {"field": "lt", "type": "quantitative", "stack": null, "scale": {"type": "linear", "domain": [0, 100], "range": [0, 6.2832], "nice": false, "zero": false}}, "text": {"field": "lab"}}},
                        {"transform": [{"filter": "datum.c == '1+'"}, {"calculate": "replace(datum.g, '-', '-\\n')", "as": "ctr"}], "mark": {"type": "text", "font": "Lato", "fontWeight": "bold", "fontSize": 16, "color": "#000", "lineBreak": "\n", "lineHeight": 21}, "encoding": {"text": {"field": "ctr"}}}
                      ]
                    }
                  ]
                }
              ]
            },
            {
              "spacing": 2,
              "resolve": {"scale": {"color": "independent", "fill": "independent", "stroke": "independent", "theta": "independent"}, "legend": {"color": "independent", "fill": "independent", "stroke": "independent"}},
              "vconcat": [
                {
                  "width": 288, "height": 203,
                  "title": {"text": "ii", "fontSize": 12, "dx": -3.7, "offset": 8},
                  "data": {"name": "bars"},
                  "transform": [{"filter": "datum.p == 'Bii'"}],
                  "mark": {"type": "bar", "strokeWidth": 1},
                  "encoding": {
                    "x": {"field": "cat", "type": "ordinal", "scale": {"paddingInner": 0.37, "paddingOuter": 0.185}, "axis": {"labels": false, "title": null, "tickSize": 5}},
                    "xOffset": {"field": "g", "type": "nominal", "scale": {"domain": ["BCG", "BCG-rKVAC85B"], "paddingInner": 0.3}},
                    "y": {"field": "v", "type": "quantitative", "title": "% cytokine+ CD8+ T cells", "scale": {"domain": [0, 1.5], "nice": false}, "axis": {"values": [0, 0.5, 1, 1.5], "format": ".1f", "labelOverlap": false, "titleX": -44, "titleBaseline": "middle"}},
                    "fill": {"field": "g", "type": "nominal", "scale": {"domain": ["BCG", "BCG-rKVAC85B"], "range": ["#ffffff", "#5a5a5a"]}, "legend": {"orient": "none", "legendX": 14, "legendY": 1, "title": null, "padding": 0, "symbolType": "M-1,-0.7H1V0.7H-1Z", "symbolSize": 256, "symbolStrokeColor": "#555555", "symbolStrokeWidth": 1, "labelFont": "Liberation Sans", "labelFontSize": 13, "labelFontWeight": "bold", "labelColor": "#000", "labelOffset": 10, "rowPadding": 1}},
                    "stroke": {"field": "g", "type": "nominal", "scale": {"domain": ["BCG", "BCG-rKVAC85B"], "range": ["#7a7a7a", "#404040"]}, "legend": null}
                  }
                },
                {
                  "width": 288, "height": 54,
                  "data": {"name": "combos"},
                  "transform": [{"fold": ["IFN", "IL2", "TNF"], "as": ["cyt", "sign"]}],
                  "mark": {"type": "text", "font": "Liberation Sans", "fontSize": 13, "fontWeight": "bold", "color": "#000"},
                  "encoding": {
                    "x": {"field": "cat", "type": "ordinal", "scale": {"type": "band", "paddingInner": 0.37, "paddingOuter": 0.185}, "axis": null},
                    "y": {"field": "cyt", "type": "nominal", "sort": ["IFN", "IL2", "TNF"], "axis": {"title": null, "domain": false, "ticks": false, "tickSize": 0, "labelAlign": "left", "labelPadding": 51, "labelFontSize": 14, "labelExpr": "datum.value == 'IFN' ? 'IFN-γ' : (datum.value == 'IL2' ? 'IL-2' : 'TNF-α')"}},
                    "text": {"field": "sign"}
                  }
                },
                {
                  "spacing": 32, "bounds": "flush",
                  "resolve": {"scale": {"color": "independent", "fill": "independent", "stroke": "independent", "theta": "independent"}, "legend": {"color": "independent", "fill": "independent", "stroke": "independent"}},
                  "hconcat": [
                    {
                      "width": 126, "height": 148,
                      "data": {"name": "donuts"},
                      "transform": [{"filter": "datum.p == 'Bii' && datum.g == 'BCG'"}, {"stack": "pct", "groupby": [], "sort": [{"field": "c", "order": "descending"}], "as": ["t0", "t1"]}, {"calculate": "datum.c == '3+' ? (datum.pct < 4 ? (datum.t0 + datum.t1) / 2 - 5.5 : (datum.t0 + datum.t1) / 2 - 1.7) : ((datum.c == '1+' && datum.g != 'BCG') ? 50 : (datum.t0 + datum.t1) / 2)", "as": "lt"}],
                      "layer": [
                        {"mark": {"type": "arc", "innerRadius": 34, "outerRadius": 65}, "encoding": {"theta": {"field": "t0", "type": "quantitative", "stack": null, "scale": {"type": "linear", "domain": [0, 100], "range": [0, 6.2832], "nice": false, "zero": false}}, "theta2": {"field": "t1"}, "color": {"field": "c", "type": "nominal", "scale": {"domain": ["3+", "2+", "1+"], "range": ["#5b9bd5", "#ed7d31", "#a5a5a5"]}, "legend": {"orient": "none", "legendX": 20, "legendY": 145, "direction": "horizontal", "title": null, "padding": 0, "symbolType": "square", "symbolSize": 64, "symbolStrokeWidth": 0, "labelFont": "Lato", "labelFontSize": 13, "labelFontWeight": "bold", "labelColor": "#262626", "columnPadding": 2, "labelOffset": 4}}}},
                        {"transform": [{"filter": "datum.c == '3+'"}], "mark": {"type": "arc", "innerRadius": 34, "outerRadius": 65, "stroke": "#ffffff", "strokeWidth": 1.5, "fill": {"gradient": "linear", "x1": 0, "y1": 0, "x2": 0, "y2": 1, "stops": [{"offset": 0, "color": "#5b9bd5"}, {"offset": 1, "color": "#b9d4ef"}]}}, "encoding": {"theta": {"field": "t0", "type": "quantitative", "stack": null, "scale": {"type": "linear", "domain": [0, 100], "range": [0, 6.2832], "nice": false, "zero": false}}, "theta2": {"field": "t1"}}},
                        {"transform": [{"filter": "datum.c == '2+'"}], "mark": {"type": "arc", "innerRadius": 34, "outerRadius": 65, "stroke": "#ffffff", "strokeWidth": 1.5, "fill": {"gradient": "linear", "x1": 0, "y1": 0, "x2": 0, "y2": 1, "stops": [{"offset": 0, "color": "#ed7d31"}, {"offset": 1, "color": "#f8c6a2"}]}}, "encoding": {"theta": {"field": "t0", "type": "quantitative", "stack": null, "scale": {"type": "linear", "domain": [0, 100], "range": [0, 6.2832], "nice": false, "zero": false}}, "theta2": {"field": "t1"}}},
                        {"transform": [{"filter": "datum.c == '1+'"}], "mark": {"type": "arc", "innerRadius": 34, "outerRadius": 65, "stroke": "#ffffff", "strokeWidth": 1.5, "fill": {"gradient": "linear", "x1": 0, "y1": 0, "x2": 0, "y2": 1, "stops": [{"offset": 0, "color": "#a0a0a0"}, {"offset": 1, "color": "#d3d3d3"}]}}, "encoding": {"theta": {"field": "t0", "type": "quantitative", "stack": null, "scale": {"type": "linear", "domain": [0, 100], "range": [0, 6.2832], "nice": false, "zero": false}}, "theta2": {"field": "t1"}}},
                        {"mark": {"type": "text", "radius": 50, "font": "Lato", "fontWeight": "bold", "fontSize": 12, "color": "#404040", "lineBreak": "\n"}, "encoding": {"theta": {"field": "lt", "type": "quantitative", "stack": null, "scale": {"type": "linear", "domain": [0, 100], "range": [0, 6.2832], "nice": false, "zero": false}}, "text": {"field": "lab"}}},
                        {"transform": [{"filter": "datum.c == '1+'"}, {"calculate": "replace(datum.g, '-', '-\\n')", "as": "ctr"}], "mark": {"type": "text", "font": "Lato", "fontWeight": "bold", "fontSize": 16, "color": "#000", "lineBreak": "\n", "lineHeight": 21}, "encoding": {"text": {"field": "ctr"}}}
                      ]
                    },
                    {
                      "width": 130, "height": 148,
                      "data": {"name": "donuts"},
                      "transform": [{"filter": "datum.p == 'Bii' && datum.g == 'BCG-rKVAC85B'"}, {"stack": "pct", "groupby": [], "sort": [{"field": "c", "order": "descending"}], "as": ["t0", "t1"]}, {"calculate": "datum.c == '3+' ? (datum.pct < 4 ? (datum.t0 + datum.t1) / 2 - 5.5 : (datum.t0 + datum.t1) / 2 - 1.7) : ((datum.c == '1+' && datum.g != 'BCG') ? 50 : (datum.t0 + datum.t1) / 2)", "as": "lt"}],
                      "layer": [
                        {"mark": {"type": "arc", "innerRadius": 34, "outerRadius": 65}, "encoding": {"theta": {"field": "t0", "type": "quantitative", "stack": null, "scale": {"type": "linear", "domain": [0, 100], "range": [0, 6.2832], "nice": false, "zero": false}}, "theta2": {"field": "t1"}, "color": {"field": "c", "type": "nominal", "scale": {"domain": ["3+", "2+", "1+"], "range": ["#5b9bd5", "#ed7d31", "#a5a5a5"]}, "legend": {"orient": "none", "legendX": 20, "legendY": 145, "direction": "horizontal", "title": null, "padding": 0, "symbolType": "square", "symbolSize": 64, "symbolStrokeWidth": 0, "labelFont": "Lato", "labelFontSize": 13, "labelFontWeight": "bold", "labelColor": "#262626", "columnPadding": 2, "labelOffset": 4}}}},
                        {"transform": [{"filter": "datum.c == '3+'"}], "mark": {"type": "arc", "innerRadius": 34, "outerRadius": 65, "stroke": "#ffffff", "strokeWidth": 1.5, "fill": {"gradient": "linear", "x1": 0, "y1": 0, "x2": 0, "y2": 1, "stops": [{"offset": 0, "color": "#5b9bd5"}, {"offset": 1, "color": "#b9d4ef"}]}}, "encoding": {"theta": {"field": "t0", "type": "quantitative", "stack": null, "scale": {"type": "linear", "domain": [0, 100], "range": [0, 6.2832], "nice": false, "zero": false}}, "theta2": {"field": "t1"}}},
                        {"transform": [{"filter": "datum.c == '2+'"}], "mark": {"type": "arc", "innerRadius": 34, "outerRadius": 65, "stroke": "#ffffff", "strokeWidth": 1.5, "fill": {"gradient": "linear", "x1": 0, "y1": 0, "x2": 0, "y2": 1, "stops": [{"offset": 0, "color": "#ed7d31"}, {"offset": 1, "color": "#f8c6a2"}]}}, "encoding": {"theta": {"field": "t0", "type": "quantitative", "stack": null, "scale": {"type": "linear", "domain": [0, 100], "range": [0, 6.2832], "nice": false, "zero": false}}, "theta2": {"field": "t1"}}},
                        {"transform": [{"filter": "datum.c == '1+'"}], "mark": {"type": "arc", "innerRadius": 34, "outerRadius": 65, "stroke": "#ffffff", "strokeWidth": 1.5, "fill": {"gradient": "linear", "x1": 0, "y1": 0, "x2": 0, "y2": 1, "stops": [{"offset": 0, "color": "#a0a0a0"}, {"offset": 1, "color": "#d3d3d3"}]}}, "encoding": {"theta": {"field": "t0", "type": "quantitative", "stack": null, "scale": {"type": "linear", "domain": [0, 100], "range": [0, 6.2832], "nice": false, "zero": false}}, "theta2": {"field": "t1"}}},
                        {"mark": {"type": "text", "radius": 50, "font": "Lato", "fontWeight": "bold", "fontSize": 12, "color": "#404040", "lineBreak": "\n"}, "encoding": {"theta": {"field": "lt", "type": "quantitative", "stack": null, "scale": {"type": "linear", "domain": [0, 100], "range": [0, 6.2832], "nice": false, "zero": false}}, "text": {"field": "lab"}}},
                        {"transform": [{"filter": "datum.c == '1+'"}, {"calculate": "replace(datum.g, '-', '-\\n')", "as": "ctr"}], "mark": {"type": "text", "font": "Lato", "fontWeight": "bold", "fontSize": 16, "color": "#000", "lineBreak": "\n", "lineHeight": 21}, "encoding": {"text": {"field": "ctr"}}}
                      ]
                    }
                  ]
                }
              ]
            }
          ]
        }
      ]
    }
  ]
}
